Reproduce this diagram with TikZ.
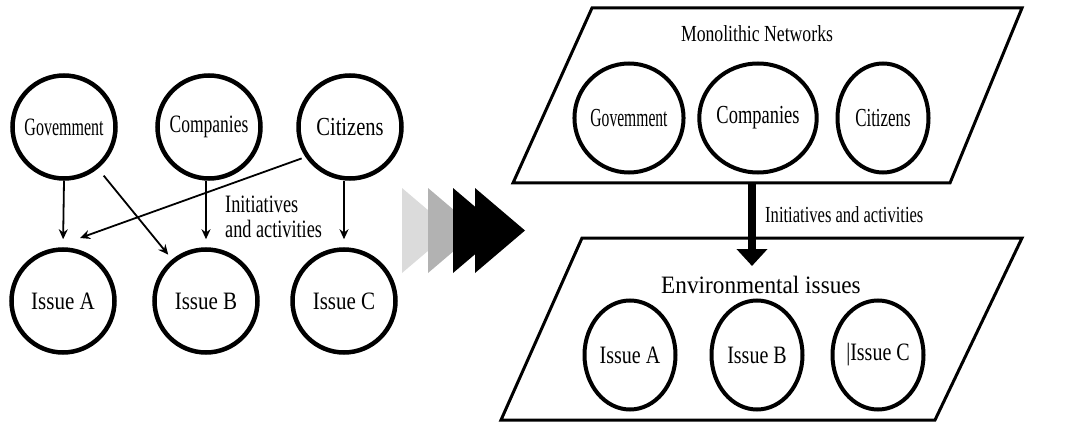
\documentclass[tikz,border=0pt]{standalone}
\usepackage{fontspec}
\setmainfont{Liberation Serif}
\usetikzlibrary{shapes.geometric,arrows.meta}
\newcommand\tx[3]{{\fontsize{#2pt}{24pt}\selectfont\addfontfeature{FakeStretch=#1}#3}}
\begin{document}
\begin{tikzpicture}[x=1pt,y=-1pt,
  lcirc/.style={circle,draw,line width=4.5pt,minimum size=103pt,inner sep=0pt},
  rell/.style={ellipse,draw,line width=4pt,minimum width=91pt,minimum height=109pt,inner sep=0pt},
  arr/.style={line width=1.8pt,-{Stealth[length=10pt,width=9pt]}},
  plane/.style={draw,line width=3pt,line join=miter},
  lbl/.style={inner sep=0pt,anchor=west,align=left}]
\useasboundingbox (0,0) rectangle (1090,425);

% ---------- left network ----------
\node[lcirc] (gov)  at (64,127)  {\tx{0.64}{25}{Govemment}};
\node[lcirc] (comp) at (209,127) {\tx{0.70}{25}{Companies}};
\node[lcirc] (cit)  at (350,127) {\tx{0.79}{26}{Citizens}};
\node[lcirc] (issA) at (63,301)  {\tx{0.84}{25}{Issue A}};
\node[lcirc] (issB) at (206,301) {\tx{0.84}{25}{Issue B}};
\node[lcirc] (issC) at (344,301) {\tx{0.84}{25}{Issue C}};

\draw[arr,shorten >=8pt] (gov.south) -- (issA.north);
\draw[arr,shorten >=8pt] (comp.south -| issB) -- (issB.north);
\draw[arr,shorten >=8pt] (cit.south -| issC) -- (issC.north);
\draw[arr,shorten <=9pt,shorten >=6pt] (gov) -- (issB);
\coordinate (aend) at (80,238);
\draw[arr,shorten <=4pt] (cit.214) -- (aend);

\node[lbl] (linit) at (225,220)
  {\tx{0.73}{25}{\begin{tabular}{@{}l@{}}Initiatives\\and activities\end{tabular}}};

% ---------- transition chevrons ----------
\fill[gray!28] (402,188) -- (452,230.5) -- (402,273) -- cycle;
\fill[gray!60] (428,188) -- (478,230.5) -- (428,273) -- cycle;
\fill[black]   (453,188) -- (503,230.5) -- (453,273) -- cycle;
\fill[black]   (475,188) -- (525,230.5) -- (475,273) -- cycle;

% ---------- right: monolithic networks ----------
\draw[plane] (592,8) -- (1022,8) -- (950,183) -- (513,183) -- cycle;
\node[inner sep=0pt] (mono) at (757,34) {\tx{0.77}{23}{Monolithic Networks}};
\node[rell] (rgov)  at (629,118) {\tx{0.60}{26}{Govemment}};
\node[rell] (rcomp) at (758,118) {\tx{0.71}{26}{Companies}};
\node[rell] (rcit)  at (883,118) {\tx{0.65}{26}{Citizens}};

% ---------- right: environmental issues ----------
\draw[plane] (582,238) -- (1022,238) -- (935,420) -- (501,420) -- cycle;
\node[inner sep=0pt] (env) at (761,285) {\tx{0.93}{25}{Environmental issues}};
\node[rell] (rissA) at (630,355) {\tx{0.80}{25}{Issue A}};
\node[rell] (rissB) at (757,355) {\tx{0.80}{25}{Issue B}};
\node[rell] (rissC) at (878,355) {\tx{0.80}{25}{\textbar Issue C}};

% ---------- thick arrow between planes ----------
\coordinate (ptop) at (752,183);
\coordinate (pbot) at (752,266);
\draw[line width=8pt,-{Triangle[length=17pt,width=30pt]}] (ptop) -- (pbot);
\node[lbl] (rinit) at (765,215) {\tx{0.72}{23}{Initiatives and activities}};
\end{tikzpicture}
\end{document}
